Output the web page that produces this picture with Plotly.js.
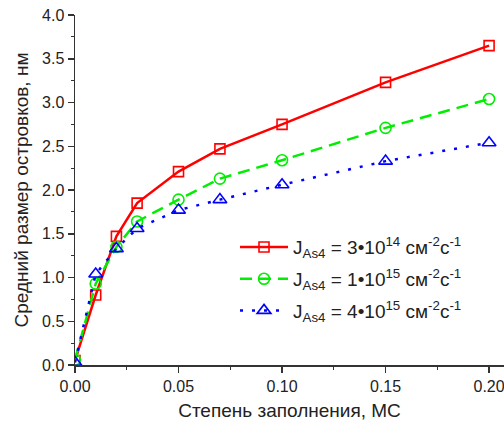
<!DOCTYPE html>
<html>
<head>
<meta charset="utf-8">
<script src="https://cdn.plot.ly/plotly-3.0.1.min.js"></script>
<style>html,body{margin:0;padding:0;background:#fff;}#chart{width:504px;height:421px;}</style>
</head>
<body>
<div id="chart"></div>
<script>
const coverage = [0, 0.01, 0.02, 0.03, 0.05, 0.07, 0.10, 0.15, 0.20];
const sizeJ3e14 = [0.05, 0.80, 1.47, 1.85, 2.21, 2.47, 2.75, 3.23, 3.65];
const sizeJ1e15 = [0.06, 0.93, 1.35, 1.64, 1.89, 2.13, 2.34, 2.71, 3.04];
const sizeJ4e15 = [0.03, 1.04, 1.33, 1.56, 1.77, 1.89, 2.06, 2.33, 2.54];
const seriesNames = [
  'J<sub>As4</sub> = 3•10<sup>14</sup> см<sup>-2</sup>с<sup>-1</sup>',
  'J<sub>As4</sub> = 1•10<sup>15</sup> см<sup>-2</sup>с<sup>-1</sup>',
  'J<sub>As4</sub> = 4•10<sup>15</sup> см<sup>-2</sup>с<sup>-1</sup>'
];
const xTitle = 'Степень заполнения, МС';
const yTitle = 'Средний размер островков, нм';

const font = 'Liberation Sans, Arial, sans-serif';
const traces = [
  {x: coverage, y: sizeJ3e14, name: seriesNames[0], legendgroup: 'g1', mode: 'lines+markers',
   line: {color: '#ff0000', width: 2.5},
   marker: {symbol: 'square-open', size: 10, color: '#ff0000', line: {width: 1.6}}, cliponaxis: true},
  {x: coverage, y: sizeJ1e15, name: seriesNames[1], legendgroup: 'g2', mode: 'lines+markers',
   line: {color: '#00ee00', width: 2.5, dash: '12px,7px'},
   marker: {symbol: 'circle-open', size: 11, color: '#00ee00', line: {width: 1.6}}, cliponaxis: true},
  {x: coverage, y: sizeJ4e15, name: seriesNames[2], legendgroup: 'g3', mode: 'lines+markers',
   line: {color: '#0000ff', width: 2.5, dash: '3px,9px'},
   marker: {symbol: 'triangle-up-open', size: 12, color: '#0000ff', line: {width: 1.6}}, cliponaxis: true}
];
const layout = {
  width: 504, height: 421,
  margin: {l: 75, r: 0, t: 15, b: 56},
  paper_bgcolor: '#fff', plot_bgcolor: '#fff',
  font: {family: font, size: 16, color: '#222'},
  showlegend: true,
  legend: {x: 0.373, y: 0.391, xanchor: 'left', yanchor: 'top', bgcolor: 'rgba(0,0,0,0)',
           traceorder: 'grouped', tracegroupgap: 4,
           font: {family: font, size: 19, color: '#222'}, itemwidth: 48},
  xaxis: {range: [0, 0.2072], showgrid: false, zeroline: false, showline: true, linecolor: '#333', linewidth: 1.5,
          ticks: 'outside', ticklen: 6, tickwidth: 1.5, tickcolor: '#333', dtick: 0.05, tick0: 0,
          tickformat: '.2f', tickfont: {size: 16, color: '#222'}, ticklabeloverflow: 'allow',
          minor: {ticks: 'outside', ticklen: 3, tickwidth: 1.2, tickcolor: '#333', dtick: 0.025},
          title: {text: xTitle, font: {size: 19, color: '#222'}, standoff: 12}},
  yaxis: {range: [0, 4.0], showgrid: false, zeroline: false, showline: true, linecolor: '#333', linewidth: 1.5,
          ticks: 'outside', ticklen: 6, tickwidth: 1.5, tickcolor: '#333', dtick: 0.5, tick0: 0,
          tickformat: '.1f', tickfont: {size: 16, color: '#222'},
          minor: {ticks: 'outside', ticklen: 3, tickwidth: 1.2, tickcolor: '#333', dtick: 0.25},
          title: {text: yTitle, font: {size: 19, color: '#222'}, standoff: 8}}
};
Plotly.newPlot('chart', traces, layout, {displayModeBar: false, staticPlot: true});
</script>
</body>
</html>
